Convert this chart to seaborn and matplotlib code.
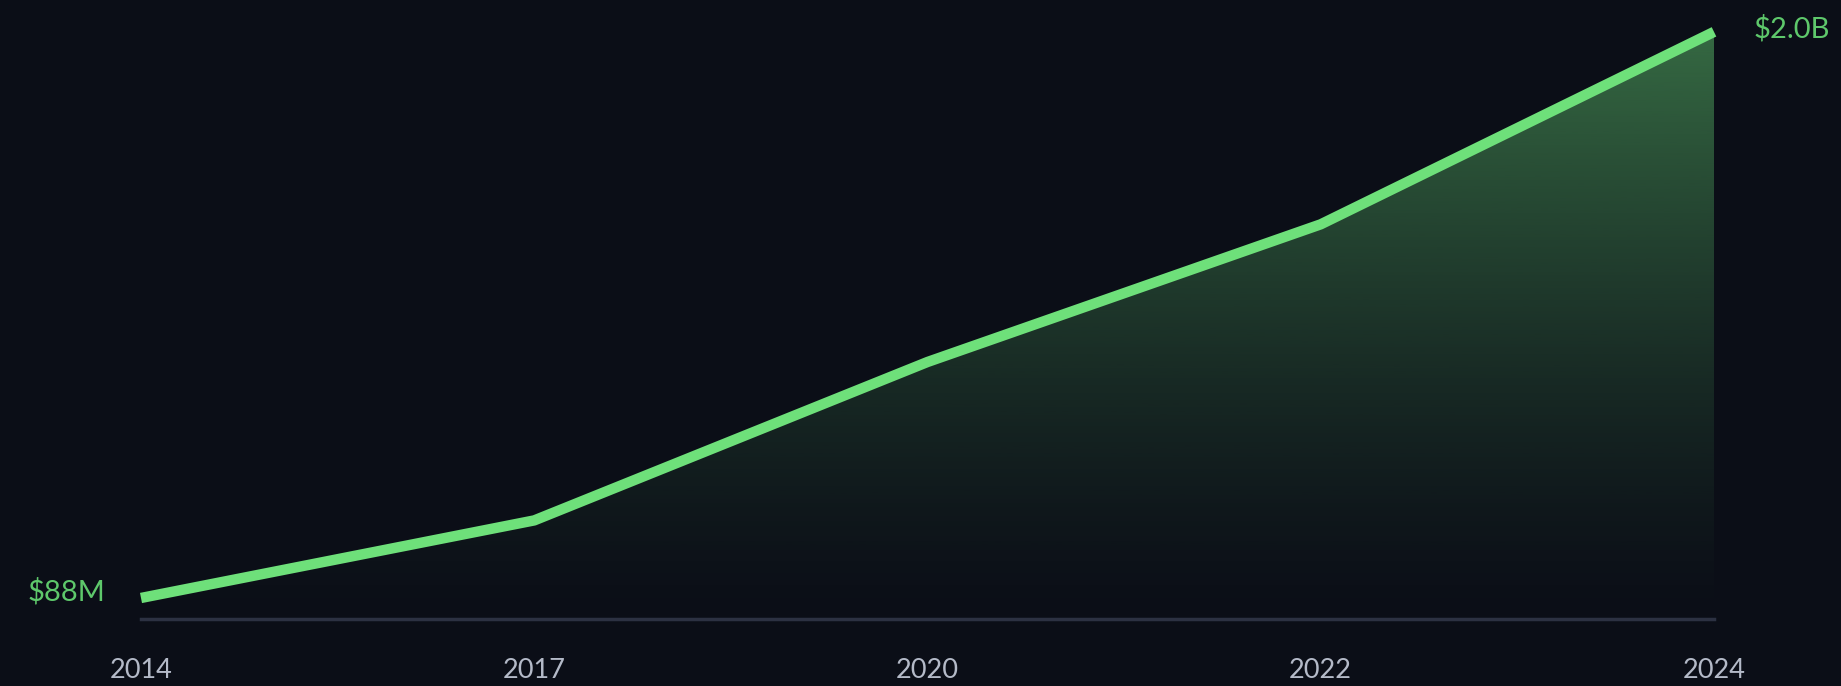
import matplotlib.pyplot as plt
import seaborn as sns
import pandas as pd
import numpy as np
from matplotlib.colors import to_rgb

# Data (values in $B)
years = ['2014', '2017', '2020', '2022', '2024']
revenue = [0.088, 0.35, 0.885, 1.35, 2.0]
first_label = '$88M'
last_label = '$2.0B'

df = pd.DataFrame({'year': years, 'revenue': revenue})
df['pos'] = range(len(df))

bg = '#0b0e17'
green = '#6ee07a'
sns.set_theme(style='dark')
plt.rcParams['font.family'] = ['Lato', 'DejaVu Sans']

fig = plt.figure(figsize=(18.41, 6.86), dpi=100, facecolor=bg)
ax = fig.add_axes([141 / 1841, (686 - 619) / 686, (1714 - 141) / 1841, (619 - 20) / 686])
ax.set_facecolor(bg)

ymin, ymax = 0.017, 2.04
ax.set_xlim(0, len(years) - 1)
ax.set_ylim(ymin, ymax)

# gradient fill under the line
poly = ax.fill_between(df['pos'], df['revenue'], ymin, color='none', lw=0)
n = 256
rgba = np.zeros((n, 1, 4))
rgba[:, 0, :3] = to_rgb('#4c9a5a')
rgba[:, 0, 3] = np.linspace(0.72, 0.0, n) ** 1.3
img = ax.imshow(rgba, extent=[0, len(years) - 1, ymin, max(revenue)],
                aspect='auto', origin='upper', zorder=1)
img.set_clip_path(poly.get_paths()[0], transform=ax.transData)

sns.lineplot(data=df, x='pos', y='revenue', ax=ax, color=green, lw=7.5,
             solid_capstyle='butt', zorder=3, clip_on=False)

for s in ['top', 'right', 'left']:
    ax.spines[s].set_visible(False)
ax.spines['bottom'].set_color('#2c3142')
ax.spines['bottom'].set_linewidth(2.5)

ax.set_xticks(df['pos'])
ax.set_xticklabels(years, fontsize=19.5, color='#b4bac8')
ax.tick_params(axis='x', length=0, pad=28)
ax.set_yticks([])
ax.set_xlabel('')
ax.set_ylabel('')
ax.grid(False)

ax.annotate(first_label, (0, revenue[0]), xytext=(-36, 6), textcoords='offset pixels',
            ha='right', va='center', fontsize=21, color='#5ec86b')
ax.annotate(last_label, (len(years) - 1, revenue[-1]), xytext=(40, 3), textcoords='offset pixels',
            ha='left', va='center', fontsize=21, color='#5ec86b',
            annotation_clip=False)

fig.savefig('out.png', dpi=100, facecolor=bg)
